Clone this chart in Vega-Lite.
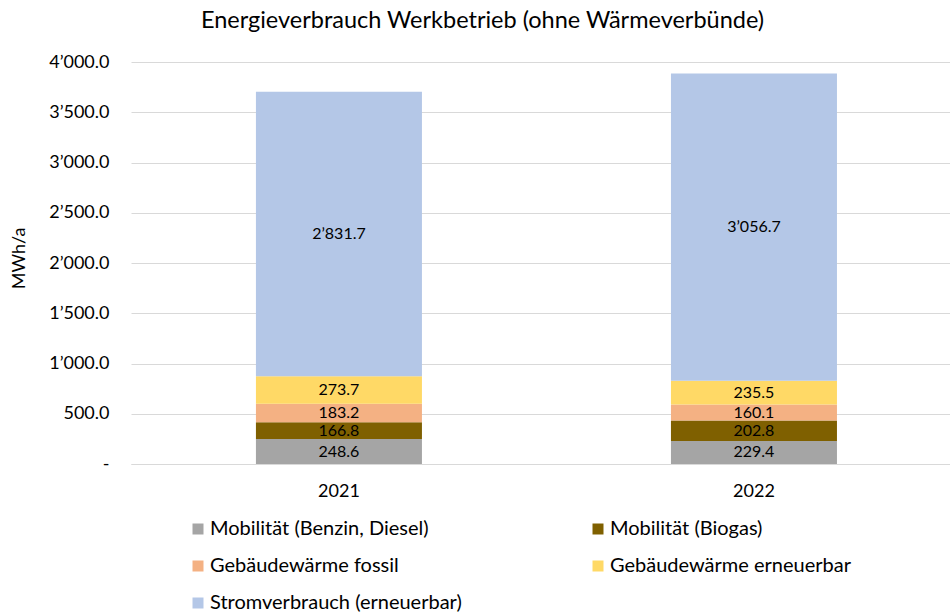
{
  "$schema": "https://vega.github.io/schema/vega-lite/v6.json",
  "width": 819,
  "height": 402,
  "autosize": {"type": "none"},
  "padding": {"left": 131, "top": 62, "right": 0, "bottom": 148},
  "background": "white",
  "config": {
    "locale": {"number": {"decimal": ".", "thousands": "’", "grouping": [3], "currency": ["", ""]}},
    "font": "Lato",
    "view": {"stroke": null}
  },
  "title": {
    "text": "Energieverbrauch Werkbetrieb (ohne Wärmeverbünde)",
    "font": "Lato",
    "fontSize": 23.5,
    "fontWeight": "normal",
    "color": "#000000",
    "anchor": "middle",
    "dx": -58,
    "offset": 21
  },
  "data": {
    "values": [
      {"year": "2021", "cat": "Mobilität (Benzin, Diesel)", "value": 248.6, "ord": 1},
      {"year": "2021", "cat": "Mobilität (Biogas)", "value": 166.8, "ord": 2},
      {"year": "2021", "cat": "Gebäudewärme fossil", "value": 183.2, "ord": 3},
      {"year": "2021", "cat": "Gebäudewärme erneuerbar", "value": 273.7, "ord": 4},
      {"year": "2021", "cat": "Stromverbrauch (erneuerbar)", "value": 2831.7, "ord": 5},
      {"year": "2022", "cat": "Mobilität (Benzin, Diesel)", "value": 229.4, "ord": 1},
      {"year": "2022", "cat": "Mobilität (Biogas)", "value": 202.8, "ord": 2},
      {"year": "2022", "cat": "Gebäudewärme fossil", "value": 160.1, "ord": 3},
      {"year": "2022", "cat": "Gebäudewärme erneuerbar", "value": 235.5, "ord": 4},
      {"year": "2022", "cat": "Stromverbrauch (erneuerbar)", "value": 3056.7, "ord": 5}
    ]
  },
  "encoding": {
    "x": {
      "field": "year",
      "type": "nominal",
      "scale": {"paddingInner": 0.6, "paddingOuter": 0.2867, "align": 0.525},
      "axis": {
        "title": null,
        "labelAngle": 0,
        "labelFontSize": 18,
        "labelColor": "#000000",
        "labelPadding": 18,
        "ticks": false,
        "domainColor": "#d9d9d9",
        "domainWidth": 1
      }
    }
  },
  "layer": [
    {
      "mark": {"type": "bar"},
      "encoding": {
        "y": {
          "field": "value",
          "type": "quantitative",
          "aggregate": "sum",
          "stack": "zero",
          "title": "MWh/a",
          "scale": {"domain": [0, 4000], "nice": false},
          "axis": {
            "title": "MWh/a",
            "titleFontSize": 18,
            "titleFontWeight": "normal",
            "titleColor": "#000000",
            "titleX": -103,
            "titleY": 196,
            "values": [0, 500, 1000, 1500, 2000, 2500, 3000, 3500, 4000],
            "format": ",.1f",
            "labelExpr": "datum.value == 0 ? '-' : datum.label",
            "labelFontSize": 18,
            "labelColor": "#000000",
            "labelPadding": 22,
            "ticks": false,
            "domain": false,
            "gridColor": "#d9d9d9",
            "gridWidth": 1
          }
        },
        "color": {
          "field": "cat",
          "type": "nominal",
          "sort": ["Mobilität (Benzin, Diesel)", "Mobilität (Biogas)", "Gebäudewärme fossil", "Gebäudewärme erneuerbar", "Stromverbrauch (erneuerbar)"],
          "scale": {
            "domain": ["Mobilität (Benzin, Diesel)", "Mobilität (Biogas)", "Gebäudewärme fossil", "Gebäudewärme erneuerbar", "Stromverbrauch (erneuerbar)"],
            "range": ["#a5a5a5", "#7f6000", "#f4b183", "#ffd966", "#b4c7e7"]
          },
          "legend": {
            "title": null,
            "orient": "none",
            "direction": "horizontal",
            "legendX": 57,
            "legendY": 457,
            "columns": 2,
            "symbolType": "square",
            "symbolSize": 121,
            "symbolStrokeWidth": 0,
            "labelFontSize": 20,
            "labelColor": "#000000",
            "labelOffset": 2,
            "labelLimit": 400,
            "rowPadding": 17,
            "columnPadding": 126,
            "padding": 0
          }
        },
        "order": {"field": "ord", "type": "quantitative", "sort": "ascending"}
      }
    },
    {
      "transform": [
        {"stack": "value", "groupby": ["year"], "sort": [{"field": "ord", "order": "ascending"}], "as": ["y0", "y1"]},
        {"fold": ["y0", "y1"], "as": ["k", "v"]}
      ],
      "mark": {"type": "text", "fontSize": 16, "color": "#000000", "baseline": "middle", "align": "center"},
      "encoding": {
        "y": {"field": "v", "type": "quantitative", "aggregate": "mean", "stack": null, "title": "MWh/a", "scale": {"domain": [0, 4000], "nice": false}},
        "detail": {"field": "cat", "type": "nominal"},
        "text": {"field": "value", "type": "quantitative", "format": ",.1f"}
      }
    }
  ]
}
